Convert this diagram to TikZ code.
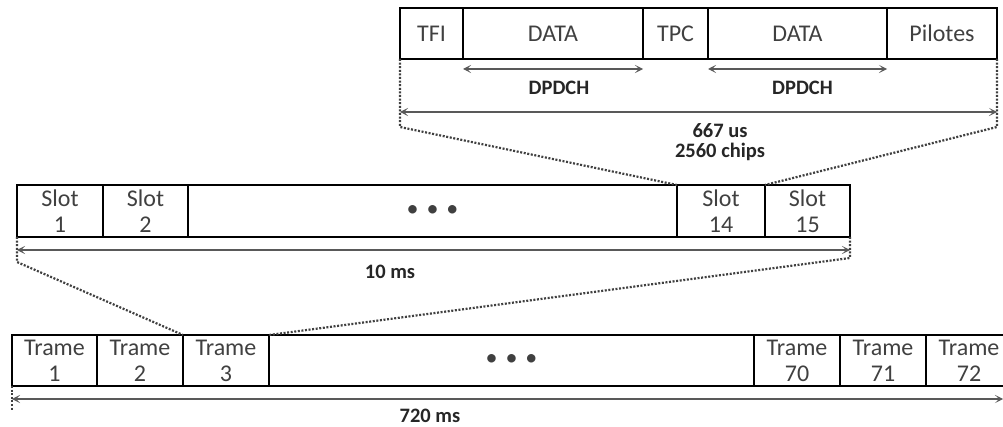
\documentclass[tikz,border=0pt]{standalone}
\usepackage{fontspec}
\usetikzlibrary{arrows.meta}
\setmainfont{Carlito}
\definecolor{txtgray}{HTML}{404040}
\definecolor{arrgray}{HTML}{595959}
\begin{document}
\begin{tikzpicture}[x=1pt,y=-1pt,>={Stealth[length=8pt,width=8pt,inset=4pt]},
  cell/.style={draw=black,line width=1.5pt,anchor=north west,inner sep=0pt,outer sep=0pt,
    minimum height=51,align=center,text=txtgray,font=\fontsize{24}{26}\selectfont},
  span/.style={<->,arrgray,line width=1.4pt},
  zoomline/.style={txtgray,line width=2.2pt,dash pattern=on 2pt off 1.6pt},
  lbl/.style={font=\bfseries\fontsize{20.5}{20.5}\selectfont,text=black!85,align=center}]
\useasboundingbox (0,0) rectangle (1003,427);
% slot
\node[cell,minimum width=63] (tfi) at (400,8) {TFI};
\node[cell,minimum width=180] (d1) at (tfi.north east) {DATA};
\node[cell,minimum width=65] (tpc) at (d1.north east) {TPC};
\node[cell,minimum width=179] (d2) at (tpc.north east) {DATA};
\node[cell,minimum width=110] (pil) at (d2.north east) {Pilotes};
\draw[span] ([yshift=-10]d1.south west) -- ([yshift=-10]d1.south east);
\draw[span] ([yshift=-10]d2.south west) -- ([yshift=-10]d2.south east);
\node[lbl] (dp1) at ([xshift=6,yshift=-29]d1.south) {DPDCH};
\node[lbl] (dp2) at ([xshift=5,yshift=-29]d2.south) {DPDCH};
\draw[span] ([yshift=-53]tfi.south west) -- ([yshift=-53]pil.south east);
\node[lbl] (dslot) at (720,142) {667 us\\2560 chips};
% trame
\node[cell,minimum width=86,minimum height=52] (s1) at (17,185) {Slot\\1};
\node[cell,minimum width=85,minimum height=52] (s2) at (s1.north east) {Slot\\2};
\node[cell,minimum width=489,minimum height=52] (sdots) at (s2.north east) {\textbullet\,\,\textbullet\,\,\textbullet};
\node[cell,minimum width=88,minimum height=52] (s14) at (sdots.north east) {Slot\\14};
\node[cell,minimum width=85,minimum height=52] (s15) at (s14.north east) {Slot\\15};
\draw[span] ([yshift=-13]s1.south west) -- ([yshift=-13]s15.south east);
\node[lbl] (dtrame) at (390,272) {10 ms};
\coordinate (zl1) at ([yshift=-68]tfi.south west);
\coordinate (zr1) at ([yshift=-68]pil.south east);
\draw[zoomline] (tfi.south west) -- (zl1) -- (s14.north west);
\draw[zoomline] (pil.south east) -- (zr1) -- (s15.north west);
% multitrame
\node[cell,minimum width=85] (t1) at (12,335) {Trame\\1};
\node[cell,minimum width=86] (t2) at (t1.north east) {Trame\\2};
\node[cell,minimum width=86] (t3) at (t2.north east) {Trame\\3};
\node[cell,minimum width=485] (tdots) at (t3.north east) {\textbullet\,\,\textbullet\,\,\textbullet};
\node[cell,minimum width=86] (t70) at (tdots.north east) {Trame\\70};
\node[cell,minimum width=86] (t71) at (t70.north east) {Trame\\71};
\node[cell,minimum width=86] (t72) at (t71.north east) {Trame\\72};
\coordinate (tend) at (1003,399);
\draw[span] ([yshift=-13]t1.south west) -- (tend);
\node[lbl] (dmulti) at (430,416) {720 ms};
\coordinate (zl2) at ([yshift=-25]s1.south west);
\coordinate (zr2) at ([yshift=-21]s15.south east);
\coordinate (zl3) at ([yshift=-25]t1.south west);
\draw[zoomline] (s1.south west) -- (zl2) -- (t3.north west);
\draw[zoomline] (s15.south east) -- (zr2) -- (tdots.north west);
\draw[zoomline] (t1.south west) -- (zl3);
\end{tikzpicture}
\end{document}
